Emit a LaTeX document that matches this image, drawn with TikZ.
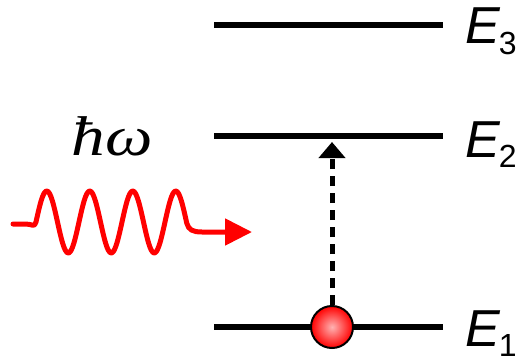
\documentclass[tikz,border=0pt]{standalone}
\usepackage{fontspec}
\setmainfont{Liberation Sans}
\newfontfamily\serifit{Liberation Serif}[ItalicFont=* Italic]
\usetikzlibrary{arrows.meta}
\newcommand\elabel[1]{\fontsize{52}{52}\selectfont\itshape E\hspace{-1pt}\raisebox{-10pt}{\fontsize{32}{32}\selectfont\upshape #1}}
\tikzset{
  level/.style={line width=5.5pt},
  wave/.style={red, line width=5pt, line cap=round, line join=round},
  excite/.style={line width=5pt, dash pattern=on 10pt off 7pt, -{Triangle[length=16pt,width=26pt]}},
}
\begin{document}
\begin{tikzpicture}[x=1pt,y=-1pt]
\useasboundingbox (0,0) rectangle (518,361);
% energy levels
\coordinate (l3a) at (214,25); \coordinate (l3b) at (443,25);
\coordinate (l2a) at (214,136); \coordinate (l2b) at (443,136);
\coordinate (l1a) at (214,327); \coordinate (l1b) at (443,327);
\draw[level] (l3a) -- (l3b);
\draw[level] (l2a) -- (l2b);
\draw[level] (l1a) -- (l1b);
% labels
\node[anchor=base west, inner sep=0pt] (e3) at (465,44) {\elabel{3}};
\node[anchor=base west, inner sep=0pt] (e2) at (465,157) {\elabel{2}};
\node[anchor=base west, inner sep=0pt] (e1) at (465,346) {\elabel{1}};
\node[anchor=base, inner sep=0pt] (hw) at (112,155) {\serifit\fontsize{56}{56}\selectfont\itshape\scalebox{1.2}[1]{ħω}};
% electron
\shade[inner color=red!30!white, outer color=red] (332,327) circle (21);
\node[circle, draw=black, line width=2pt, minimum size=42pt, inner sep=0pt] (ball) at (332,327) {};
% excitation arrow
\coordinate (tip) at (332,142);
\draw[excite] (ball.north) -- (tip);
% photon wave
\coordinate (ws) at (13,224);
\coordinate (we) at (252,232);
\draw[wave, -{Triangle[length=27pt,width=26pt]}] (ws) -- (26,224) .. controls (32,224) and (34.5,228) .. (36,222)
  -- plot[domain=36:186.75, samples=120, smooth] (\x,{222-31*sin(8.372093*(\x-36))})
  .. controls (188.5,230) and (193,232) .. (202,232) -- (we);
\end{tikzpicture}
\end{document}
